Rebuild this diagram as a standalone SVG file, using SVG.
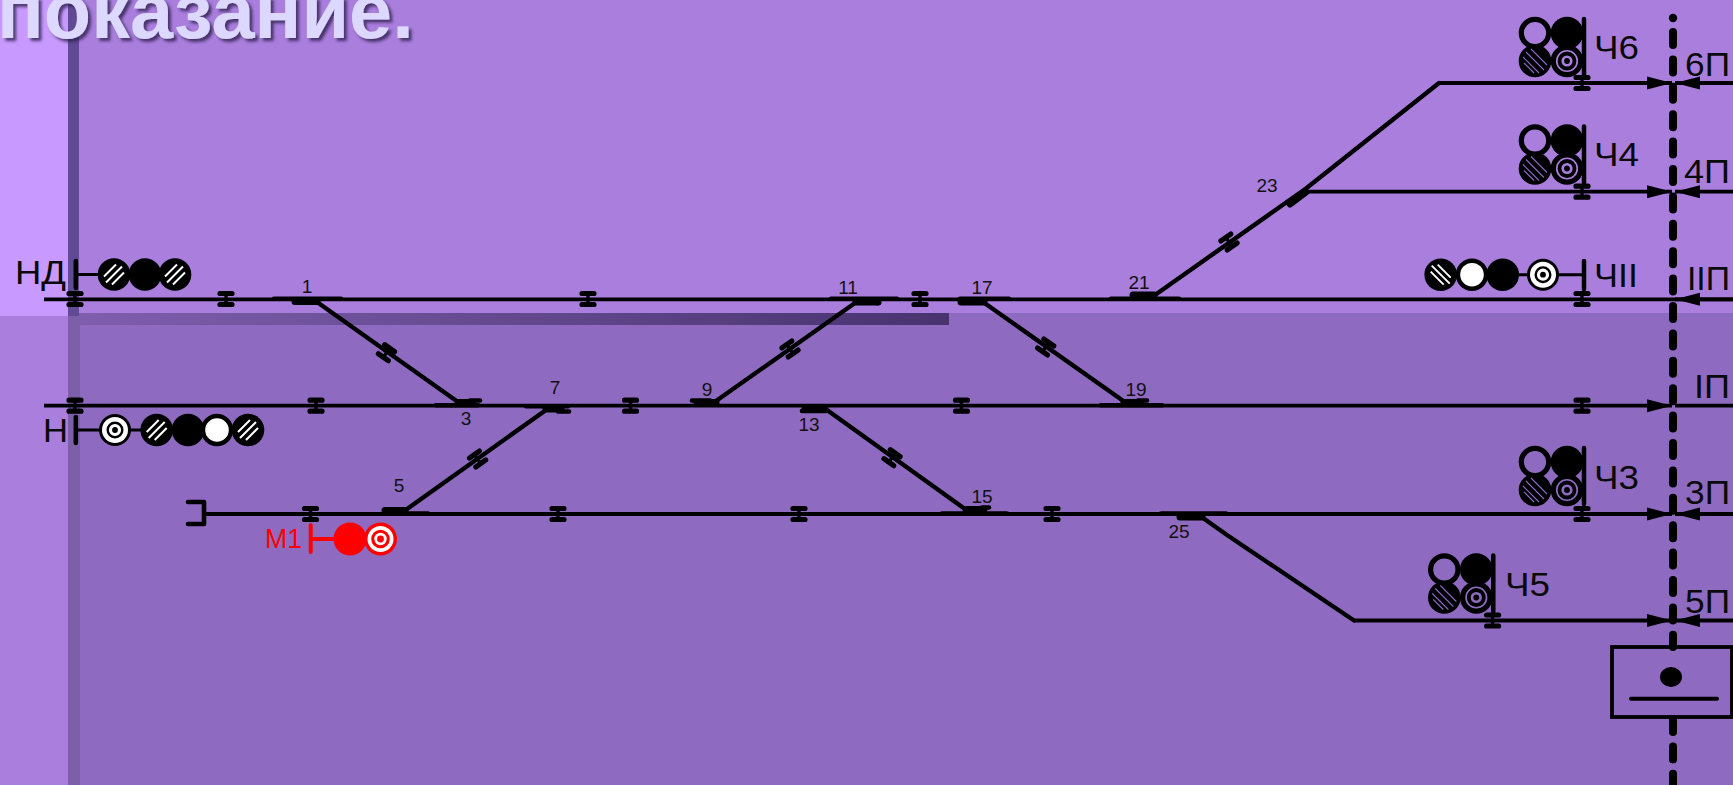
<svg xmlns="http://www.w3.org/2000/svg" width="1733" height="785" viewBox="0 0 1733 785">
<style>
.trk{fill:none;stroke:#000;stroke-width:3.8}
.brk{fill:none;stroke:#000;stroke-width:4.6;stroke-linecap:round;stroke-linejoin:round}
.dg{fill:none;stroke:#000;stroke-width:4.4;stroke-linecap:round;stroke-linejoin:round}
.ext{fill:none;stroke:#000;stroke-width:4.6;stroke-linecap:round}
.bar{fill:none;stroke:#000;stroke-width:7;stroke-linecap:round}
.dash{fill:none;stroke:#000;stroke-width:8;stroke-linecap:round;stroke-dasharray:13 14.4}
.post{fill:none;stroke:#000;stroke-width:4.5;stroke-linecap:round}
.stem{fill:none;stroke:#000;stroke-width:3}
.num{font:19px "Liberation Sans",Arial,sans-serif;fill:#111;text-anchor:middle}
.lbl{font:33px "Liberation Sans",Arial,sans-serif;fill:#0a0a0a}
.red{fill:#f00;font-size:28px}
</style>
<defs>
<linearGradient id="band" x1="0" x2="1" y1="0" y2="0"><stop offset="0" stop-color="#7f5eae"/><stop offset="1" stop-color="#48336f"/></linearGradient>
<filter id="ts" x="-5%" y="-20%" width="112%" height="150%"><feDropShadow dx="3" dy="3" stdDeviation="1.6" flood-color="#2d2050" flood-opacity=".8"/></filter>
<marker id="ah" markerUnits="userSpaceOnUse" markerWidth="26" markerHeight="16" viewBox="0 0 24 14" refX="23" refY="7" orient="auto"><path d="M0,1 L23,7 L0,13Z" fill="#000"/></marker>
<g id="j" fill="none" stroke="#000" stroke-linecap="round"><path d="M-6,-5.500H6M-6,5.500H6" stroke-width="5.200"/><path d="M0,-5.500V5.500" stroke-width="3.400"/></g>
<g id="solid"><circle r="16.300" fill="#000"/></g>
<g id="white"><circle r="14" fill="#fff" stroke="#000" stroke-width="4.400"/></g>
<g id="open"><circle r="13.700" fill="none" stroke="#000" stroke-width="5.200"/></g>
<g id="ring"><circle r="13.700" fill="none" stroke="#000" stroke-width="5.200"/><circle r="7.500" fill="none" stroke="#000" stroke-width="3.800"/><circle r="2.900" fill="#000"/></g>
<g id="ringw"><circle r="16" fill="#000"/><circle r="13" fill="#fff"/><circle r="7.300" fill="none" stroke="#000" stroke-width="2.400"/><circle r="2.900" fill="#000"/></g>
<g id="hf"><circle r="16.300" fill="#000"/><path d="M-8,8L8,-8M-10,2L2,-10M-2,10L10,-2" stroke="#fff" stroke-width="2" fill="none"/></g>
<g id="hb"><circle r="16.300" fill="#000"/><path d="M-9,-9L9,9M-10,-3L3,10M-3,-10L10,3" stroke="#fff" stroke-width="1.900" fill="none"/></g>
<g id="hd"><circle r="16.300" fill="#000"/><path d="M-9,-9L9,9M-12,-4L4,12M-4,-12L12,4M-11,2L-1,12" stroke="#8a68c4" stroke-width="1.100" fill="none"/></g>
<g id="quad">
<path class="post" d="M1584,19V75"/>
<use href="#open" x="1535" y="33"/><use href="#solid" x="1567" y="33"/>
<use href="#hd" x="1535" y="61"/><use href="#ring" x="1567" y="61"/>
</g>
</defs>

<g id="background">
<rect width="1733" height="785" fill="#a97edc"/>
<rect width="68" height="316" fill="#c89aff"/>
<rect x="68" width="1665" height="313" fill="#a97edd"/>
<rect x="68" y="313" width="1665" height="472" fill="#8e6bc0"/>
<rect x="68" y="0" width="11" height="316" fill="#604a94"/>
<rect x="68" y="316" width="12" height="469" fill="#7b5fa8"/>
<rect x="79" y="313" width="870" height="12" fill="url(#band)"/>
</g>

<text id="title" x="-3" y="38" font-family="'Liberation Sans',Arial,sans-serif" font-weight="700" font-size="77.500" fill="#dcd8ff" filter="url(#ts)">показание.</text>

<g id="connectors">
<path class="trk" d="M44,299.300H1733"/>
<path class="trk" d="M1733,299.300H1675" marker-end="url(#ah)"/>
<path class="trk" d="M44,405.700H1672" marker-end="url(#ah)"/>
<path class="trk" d="M1675,405.700H1733"/>
<path class="brk" d="M188,502H204V524H188"/>
<path class="trk" d="M204,514H1672" marker-end="url(#ah)"/>
<path class="trk" d="M1733,514H1675" marker-end="url(#ah)"/>
<path class="trk" d="M1439,83H1672" marker-end="url(#ah)"/>
<path class="trk" d="M1733,83H1675" marker-end="url(#ah)"/>
<path class="trk" d="M1307,191.700H1672" marker-end="url(#ah)"/>
<path class="trk" d="M1733,191.700H1675" marker-end="url(#ah)"/>
<path class="trk" d="M1354,620.500H1672" marker-end="url(#ah)"/>
<path class="trk" d="M1733,620.500H1675" marker-end="url(#ah)"/>
<path class="dg" d="M317,302L458,402"/>
<path class="dg" d="M407,509L546,410"/>
<path class="dg" d="M716,401L855,303"/>
<path class="dg" d="M827,410L965,509"/>
<path class="dg" d="M983,302L1122,400"/>
<path class="dg" d="M1155,295L1306,188.500L1439,83"/>
<path class="dg" d="M1203,518L1227,535L1354,620.500"/>
<circle cx="1673" cy="18" r="4.200"/>
<path class="dash" d="M1673,32V647"/>
<path class="dash" d="M1673,719V790"/>
</g>

<g id="joints">
<use href="#j" x="75" y="299"/><use href="#j" x="226" y="299"/><use href="#j" x="588" y="299"/><use href="#j" x="920" y="299"/><use href="#j" x="1582" y="299"/>
<use href="#j" x="75" y="405.700"/><use href="#j" x="316" y="405.700"/><use href="#j" x="630.500" y="405.700"/><use href="#j" x="961.500" y="405.700"/><use href="#j" x="1582" y="405.700"/>
<use href="#j" x="310.500" y="514"/><use href="#j" x="558" y="514"/><use href="#j" x="799" y="514"/><use href="#j" x="1052" y="514"/><use href="#j" x="1582" y="514"/>
<use href="#j" x="1582" y="83"/><use href="#j" x="1582" y="191.700"/><use href="#j" x="1492.600" y="620.500"/>
<use href="#j" transform="translate(386.500,352.700) rotate(35)"/>
<use href="#j" transform="translate(477.600,459) rotate(-35.500)"/>
<use href="#j" transform="translate(790,349) rotate(-35)"/>
<use href="#j" transform="translate(892,457.700) rotate(35.500)"/>
<use href="#j" transform="translate(1045.700,347) rotate(35)"/>
<use href="#j" transform="translate(1229,242) rotate(-35)"/>
</g>

<g id="switch-1"><path class="ext" d="M274,298.800H341"/><path class="bar" d="M295,301.500H317"/><text class="num" x="307" y="293">1</text></g>
<g id="switch-3"><path class="ext" d="M436,405.200H478"/><path class="bar" d="M458,402.500H472"/><path class="ext" d="M470,400.500H480"/><text class="num" x="466" y="425">3</text></g>
<g id="switch-5"><path class="ext" d="M385,513.500H428"/><path class="bar" d="M385,510.500H405"/><text class="num" x="399" y="492">5</text></g>
<g id="switch-7"><path class="ext" d="M526,406.200H568"/><path class="bar" d="M546,409H561"/><path class="ext" d="M558,411.500H569"/><text class="num" x="555" y="394">7</text></g>
<g id="switch-9"><path class="ext" d="M692,400.500H710"/><path class="bar" d="M697,402.500H716"/><text class="num" x="707" y="396">9</text></g>
<g id="switch-11"><path class="ext" d="M831,298.800H897"/><path class="bar" d="M856,302H878"/><path class="ext" d="M876,303H879"/><text class="num" x="848" y="294">11</text></g>
<g id="switch-13"><path class="ext" d="M802,411H826"/><path class="bar" d="M805,409H825"/><text class="num" x="809" y="431">13</text></g>
<g id="switch-15"><path class="ext" d="M942,513.500H1007"/><path class="bar" d="M966,509.500H984"/><path class="ext" d="M982,507.500H989"/><text class="num" x="982" y="503">15</text></g>
<g id="switch-17"><path class="ext" d="M960,298.800H1009"/><path class="bar" d="M961,302H984"/><text class="num" x="982" y="294">17</text></g>
<g id="switch-19"><path class="ext" d="M1101,405.200H1162"/><path class="bar" d="M1124,402.500H1140"/><path class="ext" d="M1138,400.500H1147"/><text class="num" x="1136" y="396">19</text></g>
<g id="switch-21"><path class="ext" d="M1111,298.800H1179"/><path class="bar" d="M1133,295H1154"/><text class="num" x="1139" y="289">21</text></g>
<g id="switch-23"><path class="bar" d="M1290,204L1306,192"/><text class="num" x="1267" y="192">23</text></g>
<g id="switch-25"><path class="ext" d="M1161,513.500H1226"/><path class="bar" d="M1180,517H1202"/><text class="num" x="1179" y="538">25</text></g>

<g id="signal-ND">
<path class="post" d="M75.800,261V288"/><path class="stem" d="M75.800,274.500H100"/>
<use href="#hf" x="114" y="274.500"/><use href="#solid" x="145" y="274.500"/><use href="#hf" x="175" y="274.500"/>
<text class="lbl" x="15" y="284" textLength="51" lengthAdjust="spacingAndGlyphs">НД</text>
</g>
<g id="signal-N">
<path class="post" d="M75.800,417V443"/><path class="stem" d="M75.800,430H100M130,430H142"/>
<use href="#ringw" x="115" y="430"/>
<use href="#hf" x="156.700" y="430"/><use href="#solid" x="188" y="430"/><use href="#white" x="217" y="430"/><use href="#hf" x="248" y="430"/>
<text class="lbl" x="43" y="442" textLength="25" lengthAdjust="spacingAndGlyphs">Н</text>
</g>
<g id="signal-M1">
<path d="M310.700,525V552M310.700,539H336" stroke="#f00" stroke-width="4" stroke-linecap="round" fill="none"/>
<circle cx="350" cy="539" r="16.500" fill="#f00"/>
<circle cx="380.500" cy="539" r="16.500" fill="#f00"/><circle cx="380.500" cy="539" r="13" fill="#fff"/><circle cx="380.500" cy="539" r="9.300" fill="#f00"/><circle cx="380.500" cy="539" r="6.200" fill="#fff"/><circle cx="380.500" cy="539" r="3.400" fill="#f00"/>
<text class="lbl red" x="265" y="548" textLength="37" lengthAdjust="spacingAndGlyphs">М1</text>
</g>
<g id="signal-CHII">
<path class="post" d="M1584,261V289"/><path class="stem" d="M1584,274.700H1558M1528,274.700H1516"/>
<use href="#ringw" x="1543" y="274.700"/>
<use href="#solid" x="1502.700" y="274.700"/><use href="#white" x="1472" y="274.700"/><use href="#hb" x="1440.700" y="274.700"/>
<text class="lbl" x="1594" y="287" textLength="44" lengthAdjust="spacingAndGlyphs">ЧII</text>
</g>
<g id="signal-CH6"><use href="#quad"/><text class="lbl" x="1594" y="58.500" textLength="45" lengthAdjust="spacingAndGlyphs">Ч6</text></g>
<g id="signal-CH4"><use href="#quad" y="107.500"/><text class="lbl" x="1594" y="165.700" textLength="45" lengthAdjust="spacingAndGlyphs">Ч4</text></g>
<g id="signal-CH3"><use href="#quad" y="429"/><text class="lbl" x="1594" y="489" textLength="45" lengthAdjust="spacingAndGlyphs">Ч3</text></g>
<g id="signal-CH5"><use href="#quad" x="-90.700" y="536.500"/><text class="lbl" x="1505" y="595.700" textLength="45" lengthAdjust="spacingAndGlyphs">Ч5</text></g>

<g id="track-labels">
<text class="lbl" x="1685" y="76" textLength="45" lengthAdjust="spacingAndGlyphs">6П</text>
<text class="lbl" x="1684" y="182.700" textLength="46" lengthAdjust="spacingAndGlyphs">4П</text>
<text class="lbl" x="1687" y="290" textLength="43" lengthAdjust="spacingAndGlyphs">IIП</text>
<text class="lbl" x="1694" y="398" textLength="36" lengthAdjust="spacingAndGlyphs">IП</text>
<text class="lbl" x="1685" y="504.300" textLength="45" lengthAdjust="spacingAndGlyphs">3П</text>
<text class="lbl" x="1685" y="612.700" textLength="45" lengthAdjust="spacingAndGlyphs">5П</text>
</g>

<g id="crossing">
<rect x="1612" y="647" width="120" height="70" fill="none" stroke="#000" stroke-width="3.800"/>
<ellipse cx="1671" cy="677" rx="11" ry="10"/>
<path d="M1631,698.700H1717" stroke="#000" stroke-width="4" stroke-linecap="round"/>
</g>
</svg>
